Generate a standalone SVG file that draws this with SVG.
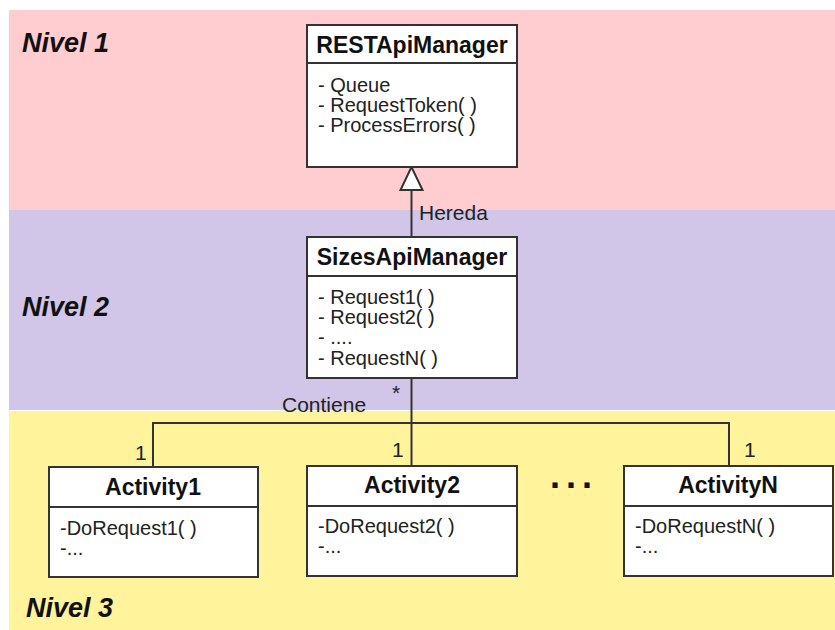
<svg xmlns="http://www.w3.org/2000/svg" width="835" height="630" viewBox="0 0 835 630">
  <style>
    .band-label { font-family: "Liberation Sans", Arial, sans-serif; font-size: 27px; font-weight: bold; font-style: italic; fill: #111; }
    .box { fill: #ffffff; stroke: #333333; stroke-width: 2; }
    .sep { stroke: #333333; stroke-width: 2; }
    .title { font-family: "Liberation Sans", Arial, sans-serif; font-size: 23px; font-weight: bold; fill: #111; text-anchor: middle; }
    .member { font-family: "Liberation Sans", Arial, sans-serif; font-size: 20px; fill: #222; }
    .label { font-family: "Liberation Sans", Arial, sans-serif; font-size: 21px; fill: #222; }
    .wire { fill: none; stroke: #333333; stroke-width: 2; }
  </style>

  <!-- level bands -->
  <g id="bands">
    <rect x="9" y="10" width="826" height="200" fill="#ffccd0"/>
    <rect x="9" y="210" width="826" height="200" fill="#d1c5e8"/>
    <rect x="9" y="411" width="826" height="219" fill="#fff39c"/>
    <text class="band-label" x="22" y="52">Nivel 1</text>
    <text class="band-label" x="22" y="316">Nivel 2</text>
    <text class="band-label" x="26" y="617">Nivel 3</text>
  </g>

  <!-- connectors -->
  <g id="connectors">
    <!-- inheritance: SizesApiManager -> RESTApiManager -->
    <line class="wire" x1="411.5" y1="237" x2="411.5" y2="190"/>
    <polygon points="411.5,167 400.5,190 422.5,190" fill="#ffffff" stroke="#333333" stroke-width="2" stroke-linejoin="miter"/>
    <text class="label" x="419" y="220">Hereda</text>
    <!-- composition: SizesApiManager -> activities -->
    <line class="wire" x1="411.5" y1="378" x2="411.5" y2="466"/>
    <polyline class="wire" points="153,467 153,423 729,423 729,466"/>
    <text class="label" x="282" y="412">Contiene</text>
    <text class="label" x="392" y="400">*</text>
    <text class="label" x="135" y="460">1</text>
    <text class="label" x="392" y="457">1</text>
    <text class="label" x="744" y="457">1</text>
  </g>

  <g id="RESTApiManager">
    <rect class="box" x="307" y="25" width="210" height="142"/>
    <line class="sep" x1="307" y1="63" x2="517" y2="63"/>
    <text class="title" x="412" y="53">RESTApiManager</text>
    <text class="member" x="318" y="92">- Queue</text>
    <text class="member" x="318" y="112">- RequestToken( )</text>
    <text class="member" x="318" y="132">- ProcessErrors( )</text>
  </g>

  <g id="SizesApiManager">
    <rect class="box" x="307" y="237" width="210" height="141"/>
    <line class="sep" x1="307" y1="276" x2="517" y2="276"/>
    <text class="title" x="412" y="265">SizesApiManager</text>
    <text class="member" x="318" y="304">- Request1( )</text>
    <text class="member" x="318" y="324">- Request2( )</text>
    <text class="member" x="318" y="344">- ....</text>
    <text class="member" x="318" y="365">- RequestN( )</text>
  </g>

  <g id="Activity1">
    <rect class="box" x="49" y="467" width="209" height="110"/>
    <line class="sep" x1="49" y1="507" x2="258" y2="507"/>
    <text class="title" x="153" y="495">Activity1</text>
    <text class="member" x="60" y="535">-DoRequest1( )</text>
    <text class="member" x="60" y="555">-...</text>
  </g>

  <g id="Activity2">
    <rect class="box" x="307" y="466" width="210" height="110"/>
    <line class="sep" x1="307" y1="506" x2="517" y2="506"/>
    <text class="title" x="412" y="493">Activity2</text>
    <text class="member" x="318" y="533">-DoRequest2( )</text>
    <text class="member" x="318" y="553">-...</text>
  </g>

  <g id="ellipsis">
    <text x="550" y="488" font-family="Liberation Sans, Arial, sans-serif" font-size="36" font-weight="bold" letter-spacing="6" fill="#111">...</text>
  </g>

  <g id="ActivityN">
    <rect class="box" x="624" y="466" width="209" height="110"/>
    <line class="sep" x1="624" y1="506" x2="833" y2="506"/>
    <text class="title" x="728" y="493">ActivityN</text>
    <text class="member" x="635" y="533">-DoRequestN( )</text>
    <text class="member" x="635" y="553">-...</text>
  </g>
</svg>
